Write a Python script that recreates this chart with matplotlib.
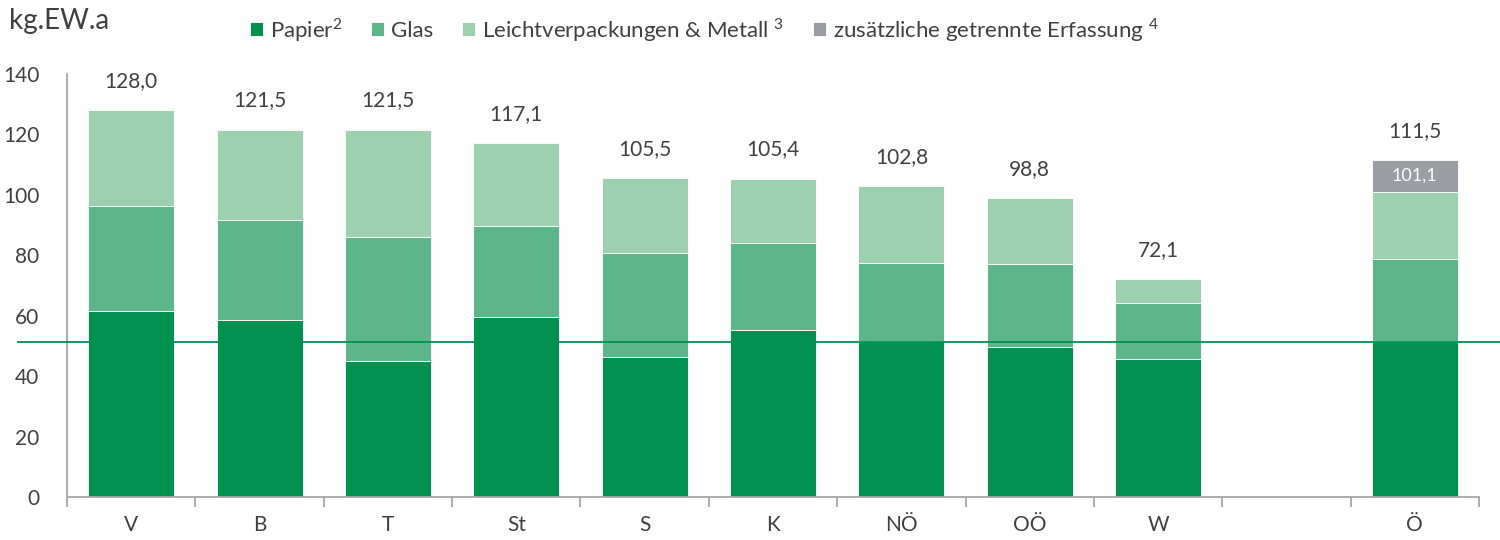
import numpy as np
import matplotlib.pyplot as plt
from matplotlib.ticker import FixedLocator

# Daten (kg je Einwohner und Jahr)
regions = ['V', 'B', 'T', 'St', 'S', 'K', 'NÖ', 'OÖ', 'W', '', 'Ö']
papier = [61.6, 58.6, 45.0, 59.6, 46.3, 55.3, 51.6, 49.7, 45.7, 0, 51.6]
glas = [34.7, 33.1, 41.1, 30.1, 34.5, 28.8, 25.9, 27.4, 18.5, 0, 27.2]
lvp = [31.7, 29.8, 35.4, 27.4, 24.7, 21.3, 25.3, 21.7, 7.9, 0, 22.3]
zusaetzlich = [0, 0, 0, 0, 0, 0, 0, 0, 0, 0, 10.4]
totals = ['128,0', '121,5', '121,5', '117,1', '105,5', '105,4', '102,8', '98,8', '72,1', '', '111,5']
inner_label = '101,1'
mean_line = 51.3

c_papier = '#009050'
c_glas = '#5DB68A'
c_lvp = '#9CD0AF'
c_zus = '#9A9EA3'
txt = '#404040'

plt.rcParams['font.family'] = ['Lato', 'DejaVu Sans']
plt.rcParams['mathtext.fontset'] = 'custom'
plt.rcParams['mathtext.rm'] = 'Lato'

fig = plt.figure(figsize=(15, 5.4), dpi=100)
ax = fig.add_axes([0.0447, 0.0796, 0.9413, 0.7834])

x = np.arange(len(regions))
w = 0.67
p = np.array(papier)
g = np.array(glas)
l = np.array(lvp)
z = np.array(zusaetzlich)
mask = np.array([r != '' for r in regions])

b1 = ax.bar(x[mask], p[mask], w, color=c_papier, edgecolor='white', linewidth=0.6)
b2 = ax.bar(x[mask], g[mask], w, bottom=p[mask], color=c_glas, edgecolor='white', linewidth=0.6)
b3 = ax.bar(x[mask], l[mask], w, bottom=(p + g)[mask], color=c_lvp, edgecolor='white', linewidth=0.6)
zm = z > 0
b4 = ax.bar(x[zm], z[zm], w, bottom=(p + g + l)[zm], color=c_zus, edgecolor='white', linewidth=0.6)

tops = p + g + l + z
for xi, t, lab in zip(x, tops, totals):
    if lab:
        ax.annotate(lab, (xi, t), xytext=(0, 14), textcoords='offset points',
                    ha='center', va='bottom', fontsize=15, color=txt)

# innerer Wert im grauen Segment
i = len(regions) - 1
ax.text(x[i], p[i] + g[i] + l[i] + z[i] / 2, inner_label, ha='center', va='center',
        color='white', fontsize=13)

# Durchschnittslinie, über die Achse hinaus
ax.plot([-0.035, 1.02], [mean_line, mean_line], color=c_papier, lw=1.3,
        transform=ax.get_yaxis_transform(), clip_on=False, zorder=3)

ax.set_xlim(-0.5, len(regions) - 0.5)
ax.set_ylim(0, 140)
ax.set_yticks(np.arange(0, 141, 20))
ax.set_xticks(x)
ax.set_xticklabels(regions)
ax.xaxis.set_minor_locator(FixedLocator(np.arange(-0.5, len(regions), 1.0)))
ax.tick_params(axis='x', which='major', length=0, pad=13, labelsize=15, labelcolor=txt)
ax.tick_params(axis='x', which='minor', length=7, width=1.3, color='#A6A6A6', direction='out')
ax.tick_params(axis='y', length=0, pad=20, labelsize=15, labelcolor=txt)

for s in ['top', 'right']:
    ax.spines[s].set_visible(False)
for s in ['left', 'bottom']:
    ax.spines[s].set_color('#A6A6A6')
    ax.spines[s].set_linewidth(1.3)

fig.text(0.006, 0.962, 'kg.EW.a', fontsize=20, color=txt, va='center')

labels = ['Papier$^{2}$', 'Glas', 'Leichtverpackungen & Metall $^{3}$',
          'zusätzliche getrennte Erfassung $^{4}$']
leg = fig.legend([b1, b2, b3, b4], labels, loc='center left', bbox_to_anchor=(0.153, 0.945),
                 ncol=4, frameon=False, fontsize=16, handlelength=0.6, handleheight=0.6,
                 handletextpad=0.3, columnspacing=1.3, labelcolor=txt)

fig.savefig('out.png', dpi=100)
